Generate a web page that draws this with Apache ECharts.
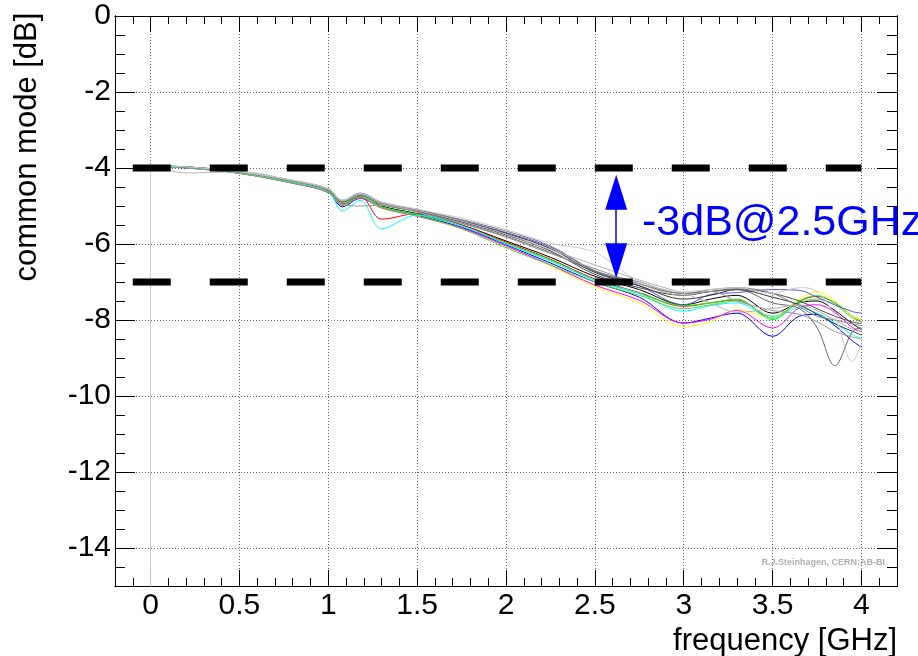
<!DOCTYPE html>
<html>
<head>
<meta charset="utf-8">
<script src="https://cdn.jsdelivr.net/npm/echarts@6/dist/echarts.min.js"></script>
<style>
html, body { margin: 0; padding: 0; background: #fff; }
#chart { width: 918px; height: 656px; }
</style>
</head>
<body>
<div id="chart"></div>
<script>
// Sample frequencies [GHz] shared by every measured trace
const freqGHz = [0.01, 0.2, 0.5, 0.8, 1.0, 1.08, 1.18, 1.3, 1.5, 1.75, 2.0, 2.25, 2.5, 2.75, 3.0, 3.15, 3.3, 3.5, 3.65, 3.75, 3.85, 3.95, 4.0];

// Common-mode response [dB] of each pick-up channel
const cmBlack   = [-3.95,-3.98,-4.12,-4.37,-4.62,-4.95,-4.73,-5.00,-5.20,-5.50,-5.92,-6.35,-6.85,-7.20,-7.60,-7.45,-7.35,-7.82,-7.55,-7.50,-7.75,-8.10,-8.25];
const cmRed     = [-3.96,-3.99,-4.12,-4.35,-4.60,-4.95,-4.75,-5.35,-5.20,-5.50,-5.95,-6.40,-6.92,-7.28,-7.64,-7.55,-7.47,-7.95,-7.51,-7.38,-7.55,-7.90,-8.05];
const cmGreen   = [-3.95,-3.98,-4.13,-4.37,-4.62,-4.95,-4.72,-5.02,-5.22,-5.52,-5.98,-6.42,-6.95,-7.30,-7.62,-7.55,-7.45,-7.99,-7.50,-7.36,-7.55,-7.90,-8.00];
const cmBlue    = [-3.97,-4.00,-4.14,-4.40,-4.65,-5.02,-4.80,-5.05,-5.25,-5.56,-6.02,-6.50,-7.00,-7.40,-8.08,-7.95,-7.82,-8.43,-7.90,-7.85,-8.15,-8.55,-8.72];
const cmYellow  = [-3.96,-3.99,-4.14,-4.40,-4.64,-4.98,-4.78,-5.06,-5.27,-5.60,-6.06,-6.58,-7.12,-7.55,-8.17,-8.04,-7.73,-7.95,-7.45,-7.25,-7.50,-7.90,-8.00];
const cmMagenta = [-3.96,-3.99,-4.14,-4.40,-4.64,-4.98,-4.78,-5.05,-5.27,-5.58,-6.05,-6.55,-7.08,-7.48,-8.08,-7.98,-7.75,-8.21,-7.68,-7.60,-7.80,-8.20,-8.30];
const cmCyan    = [-3.96,-3.99,-4.13,-4.38,-4.63,-5.13,-4.85,-5.60,-5.24,-5.52,-6.00,-6.45,-6.95,-7.30,-7.77,-7.62,-7.55,-7.95,-7.68,-7.82,-8.08,-8.39,-8.48];
const cmLeaf    = [-3.96,-3.99,-4.14,-4.39,-4.63,-4.97,-4.76,-5.04,-5.26,-5.60,-6.10,-6.55,-7.00,-7.35,-7.70,-7.60,-7.50,-7.90,-7.55,-7.45,-7.60,-7.95,-8.05];
const cmViolet  = [-3.95,-3.97,-4.10,-4.33,-4.55,-4.85,-4.66,-4.90,-5.10,-5.38,-5.70,-6.08,-6.72,-7.10,-7.60,-7.33,-7.28,-7.20,-7.22,-7.40,-7.60,-7.78,-7.82];
const cmGray20  = [-3.95,-3.97,-4.10,-4.33,-4.56,-4.88,-4.70,-4.93,-5.12,-5.40,-5.72,-6.12,-6.75,-7.10,-7.45,-7.35,-7.20,-7.40,-7.60,-7.85,-8.10,-8.30,-8.40];
const cmGray30  = [-3.95,-3.97,-4.11,-4.34,-4.57,-4.90,-4.70,-4.95,-5.14,-5.42,-5.76,-6.18,-6.80,-7.15,-7.35,-7.25,-7.18,-7.30,-7.50,-7.70,-7.90,-8.05,-8.10];
const cmGray40  = [-3.95,-3.98,-4.11,-4.34,-4.58,-4.90,-4.71,-4.96,-5.15,-5.45,-5.80,-6.22,-6.72,-7.05,-7.30,-7.25,-7.20,-7.55,-7.70,-8.20,-9.20,-8.30,-8.20];
const cmGray50  = [-3.95,-3.97,-4.10,-4.33,-4.55,-4.86,-4.68,-4.92,-5.10,-5.36,-5.66,-6.05,-6.70,-7.00,-7.30,-7.20,-7.15,-7.30,-7.65,-7.90,-8.00,-8.10,-8.15];
const cmGray60  = [-3.95,-3.98,-4.11,-4.35,-4.58,-4.95,-5.00,-4.98,-5.16,-5.46,-5.82,-6.25,-6.65,-7.05,-7.35,-7.25,-7.50,-7.75,-7.85,-8.05,-8.30,-8.45,-8.50];
const cmGray70  = [-3.95,-4.13,-4.10,-4.33,-4.56,-4.87,-4.70,-4.94,-5.12,-5.40,-5.74,-6.15,-6.55,-6.95,-7.30,-7.55,-7.80,-7.70,-7.60,-7.75,-8.00,-8.25,-8.30];
const cmGray80  = [-3.95,-3.97,-4.10,-4.32,-4.54,-4.85,-4.67,-4.90,-5.08,-5.32,-5.62,-5.98,-6.22,-6.98,-7.25,-7.20,-7.15,-7.30,-7.15,-7.25,-7.90,-9.10,-8.60];

// DC point of one channel falls far below the visible range
const dcFreq = [0, 0];
const dcValues = [-3.95, -30];

// Axis ticks
const xMajorTicks = [0, 0.5, 1, 1.5, 2, 2.5, 3, 3.5, 4];
const yMajorTicks = [-14, -12, -10, -8, -6, -4, -2, 0];

// -3 dB specification band and its annotation
const bandLevels = [-4, -7];
const bandFreqSpan = [-0.1, 4.0];
const arrowFreq = 2.62;
const arrowTips = [-4.18, -6.9];
const bandText = '-3dB@2.5GHz';
const creditText = 'R.J.Steinhagen, CERN;AB-BI';

const traces = [
  ['#000000', cmBlack], ['#ff0000', cmRed], ['#00ff00', cmGreen], ['#0000ff', cmBlue],
  ['#ffff00', cmYellow], ['#ff00ff', cmMagenta], ['#00ffff', cmCyan], ['#59d454', cmLeaf],
  ['#5954d9', cmViolet], ['#333333', cmGray20], ['#4d4d4d', cmGray30], ['#666666', cmGray40],
  ['#808080', cmGray50], ['#999999', cmGray60], ['#b3b3b3', cmGray70], ['#cccccc', cmGray80]
];

const FONT = '"Liberation Sans", Arial, Helvetica, sans-serif';
const X_MIN = -0.2, X_MAX = 4.2, Y_MIN = -15, Y_MAX = 0;
const GRID = { left: 115, right: 21, top: 16, bottom: 70 };
const ARROW_HEAD = [22, 35];

function xAxisDef(position, major) {
  const ax = {
    type: 'value', position: position, min: X_MIN, max: X_MAX,
    axisLine: { show: true, onZero: false, lineStyle: { color: '#000', width: 1 } },
    axisTick: { show: true, inside: true, length: major ? 16 : 8, lineStyle: { color: '#000', width: 1 } },
    axisLabel: { show: false },
    splitLine: { show: false }
  };
  if (major) {
    ax.axisTick.customValues = xMajorTicks;
    if (position === 'bottom') {
      ax.axisLabel = {
        show: true, customValues: xMajorTicks, margin: 5,
        fontFamily: FONT, fontSize: 30, color: '#000'
      };
      ax.splitLine = { show: true, lineStyle: { color: '#666', width: 1, type: [1, 2] } };
    }
  } else {
    ax.interval = 0.1;
  }
  return ax;
}

function yAxisDef(position, major) {
  const ax = {
    type: 'value', position: position, min: Y_MIN, max: Y_MAX,
    axisLine: { show: true, onZero: false, lineStyle: { color: '#000', width: 1 } },
    axisTick: { show: true, inside: true, length: major ? 20 : 10, lineStyle: { color: '#000', width: 1 } },
    axisLabel: { show: false },
    splitLine: { show: false }
  };
  if (major) {
    ax.axisTick.customValues = yMajorTicks;
    if (position === 'left') {
      ax.axisLabel = {
        show: true, customValues: yMajorTicks, margin: 4,
        fontFamily: FONT, fontSize: 30, color: '#000', padding: [8, 0, 0, 0]
      };
      ax.splitLine = { show: true, lineStyle: { color: '#666', width: 1, type: [1, 2] } };
    }
  } else {
    ax.interval = 0.5;
  }
  return ax;
}

const series = traces.map(function (t) {
  return {
    type: 'line', xAxisIndex: 0, yAxisIndex: 0,
    data: freqGHz.map(function (f, i) { return [f, t[1][i]]; }),
    smooth: 0.35, symbol: 'none', silent: true,
    lineStyle: { color: t[0], width: 1 }
  };
});

series.push({
  type: 'line', xAxisIndex: 0, yAxisIndex: 0,
  data: dcFreq.map(function (f, i) { return [f, dcValues[i]]; }),
  symbol: 'none', silent: true, lineStyle: { color: '#cccccc', width: 1 }
});

bandLevels.forEach(function (lvl) {
  series.push({
    type: 'line', xAxisIndex: 0, yAxisIndex: 0,
    data: bandFreqSpan.map(function (f) { return [f, lvl]; }),
    symbol: 'none', silent: true, z: 5,
    lineStyle: { color: '#000', width: 7, type: [38, 39], cap: 'butt' }
  });
});

// Arrow heads are centred on their end points, so pull each end inwards by half a head
const plotH = 656 - GRID.top - GRID.bottom;
const halfHeadDb = (ARROW_HEAD[1] / 2) * (Y_MAX - Y_MIN) / plotH;
series.push({
  type: 'line', xAxisIndex: 0, yAxisIndex: 0, data: [], z: 6,
  markLine: {
    silent: true, animation: false,
    symbol: ['triangle', 'triangle'], symbolSize: ARROW_HEAD,
    label: { show: false },
    lineStyle: { color: '#0000ff', width: 1.5, type: 'solid' },
    itemStyle: { color: '#0000ff' },
    data: [[
      { coord: [arrowFreq, arrowTips[0] - halfHeadDb] },
      { coord: [arrowFreq, arrowTips[1] + halfHeadDb] }
    ]]
  }
});

const chart = echarts.init(document.getElementById('chart'), null, { renderer: 'canvas' });
chart.setOption({
  animation: false,
  backgroundColor: '#ffffff',
  grid: { left: GRID.left, right: GRID.right, top: GRID.top, bottom: GRID.bottom, containLabel: false },
  xAxis: [xAxisDef('bottom', false), xAxisDef('bottom', true), xAxisDef('top', false), xAxisDef('top', true)],
  yAxis: [yAxisDef('left', false), yAxisDef('left', true), yAxisDef('right', false), yAxisDef('right', true)],
  series: series,
  graphic: [
    {
      type: 'text', x: 27, y: 147, rotation: Math.PI / 2, silent: true,
      style: { text: 'common mode [dB]', fontFamily: FONT, fontSize: 31, fill: '#000', align: 'center', verticalAlign: 'middle' }
    },
    {
      type: 'text', x: 897, y: 641, silent: true,
      style: { text: 'frequency [GHz]', fontFamily: FONT, fontSize: 31, fill: '#000', align: 'right', verticalAlign: 'middle' }
    },
    {
      type: 'text', x: 642, y: 223, silent: true, z: 10,
      style: { text: bandText, fontFamily: FONT, fontSize: 43, fill: '#0000ff', align: 'left', verticalAlign: 'middle' }
    },
    {
      type: 'text', x: 885, y: 563, silent: true,
      style: { text: creditText, fontFamily: FONT, fontSize: 9, fontWeight: 'bold', fill: '#b0b0b0', align: 'right', verticalAlign: 'middle' }
    }
  ]
});
</script>
</body>
</html>
